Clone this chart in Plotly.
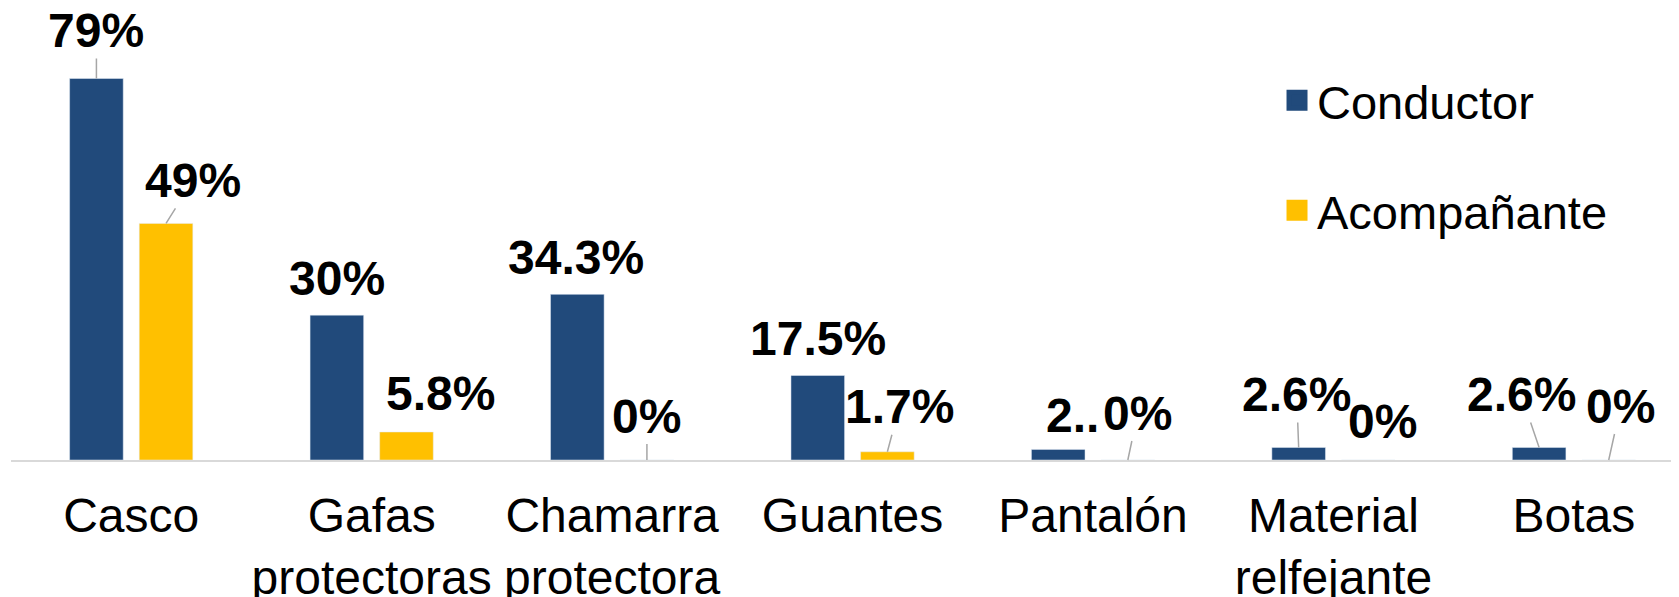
import plotly.graph_objects as go

categories = ["Casco", "Gafas<br>protectoras", "Chamarra<br>protectora", "Guantes",
              "Pantalón", "Material<br>relfejante", "Botas"]
conductor = [79, 30, 34.3, 17.5, 2.2, 2.6, 2.6]
acompanante = [49, 5.8, 0, 1.7, 0, 0, 0]
conductor_labels = ["79%", "30%", "34.3%", "17.5%", "2..", "2.6%", "2.6%"]
acompanante_labels = ["49%", "5.8%", "0%", "1.7%", "0%", "0%", "0%"]

# label placement (pixel offsets from bar top, whether a leader line is drawn)
cond_off = [(0, -48, True), (0, -37, False), (-1, -37, False), (0, -37, False),
            (14, -34, False), (-2, -53, True), (-18, -53, True)]
acom_off = [(27, -43, True), (34, -38, False), (0, -44, True), (12, -45, True),
            (10, -47, True), (14, -39, False), (12, -54, True)]

BLUE = "#214A7B"
GOLD = "#FFC000"
FONT = "Liberation Sans, Arial, sans-serif"
BAR_SHIFT = 34.8

fig = go.Figure()
fig.add_trace(go.Bar(x=categories, y=conductor, name="Conductor", marker_color=BLUE,
                     showlegend=False))
fig.add_trace(go.Bar(x=categories, y=acompanante, name="Acompañante", marker_color=GOLD,
                     showlegend=False))
# legend entries with larger square symbols
for nm, col, grp in [("Conductor", BLUE, "a"), ("Acompañante", GOLD, "b")]:
    fig.add_trace(go.Scatter(x=[None], y=[None], mode="markers", name=nm, legendgroup=grp,
                             marker=dict(symbol="square", size=16, color=col,
                                         line=dict(color=col, width=5))))

annotations = []
for vals, labs, offs, shift in [(conductor, conductor_labels, cond_off, -BAR_SHIFT),
                                (acompanante, acompanante_labels, acom_off, BAR_SHIFT)]:
    for cat, v, lab, (ax, ay, line) in zip(categories, vals, labs, offs):
        base = dict(x=cat, y=v, text="<b>%s</b>" % lab, xshift=shift,
                    font=dict(family=FONT, size=48, color="black"))
        if line:
            base.update(showarrow=True, ax=ax, ay=ay, arrowhead=0, arrowwidth=1.5,
                        arrowcolor="#A6A6A6", standoff=0)
        else:
            base.update(showarrow=False, xshift=shift + ax, yshift=-ay, yanchor="middle")
        annotations.append(base)

fig.update_layout(
    width=1671, height=589,
    margin=dict(l=3, r=0, t=0, b=137),
    paper_bgcolor="white", plot_bgcolor="white",
    barmode="group", bargap=0.421, bargroupgap=0.23,
    font=dict(family=FONT, size=48, color="black"),
    annotations=annotations,
    legend=dict(x=0.759, y=0.878, xanchor="left", yanchor="top",
                font=dict(family=FONT, size=47, color="black"),
                tracegroupgap=46, bgcolor="rgba(0,0,0,0)"),
    xaxis=dict(range=[-0.5, 6.437], showline=True, linecolor="#D9D9D9", linewidth=2,
               showgrid=False, ticks="", ticklabelstandoff=12, automargin=False,
               tickfont=dict(family=FONT, size=48, color="black")),
    yaxis=dict(range=[0, 93.6], visible=False, showgrid=False, fixedrange=True,
               automargin=False),
)

fig.write_html("out.html")
